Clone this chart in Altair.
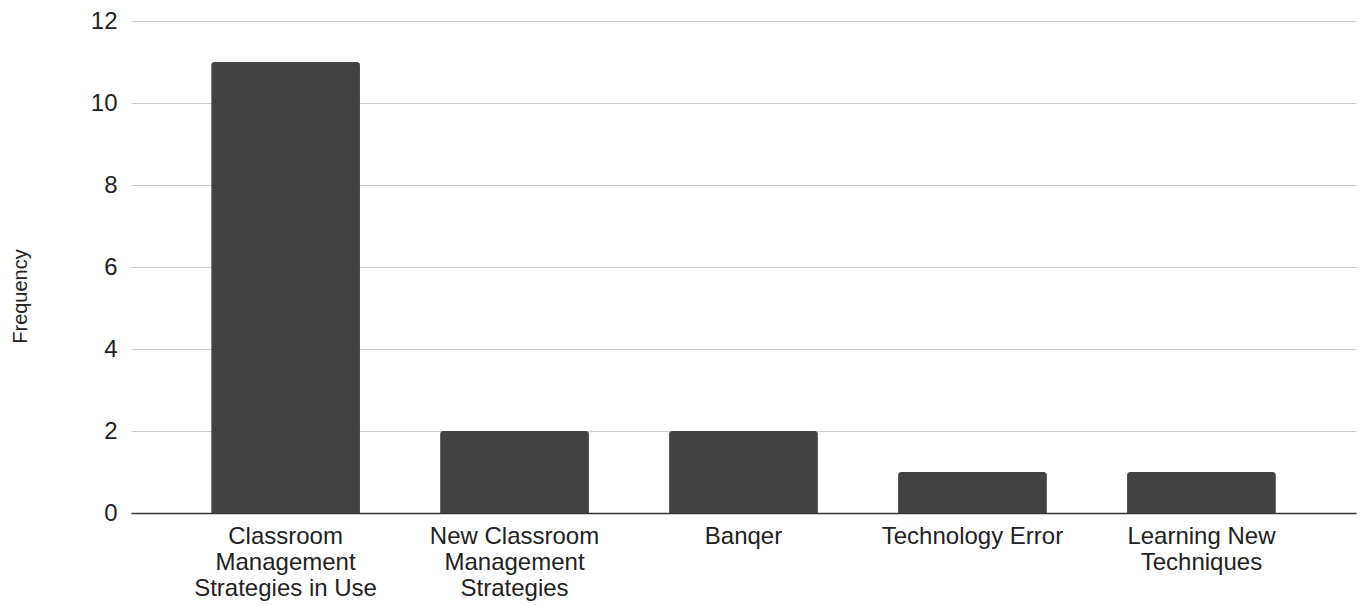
import altair as alt
import pandas as pd

# Category labels (line breaks mark where each axis label wraps)
categories = [
    "Classroom\nManagement\nStrategies in Use",
    "New Classroom\nManagement\nStrategies",
    "Banqer",
    "Technology Error",
    "Learning New\nTechniques",
]
frequency = [11, 2, 2, 1, 1]
y_ticks = [0, 2, 4, 6, 8, 10, 12]

df = pd.DataFrame({"category": categories, "frequency": frequency})

FONT = "Liberation Sans"

chart = (
    alt.Chart(df)
    .mark_bar(color="#424242", cornerRadiusTopLeft=3, cornerRadiusTopRight=3)
    .encode(
        x=alt.X(
            "category:N",
            sort=None,
            scale=alt.Scale(paddingInner=0.35, paddingOuter=0.35),
            axis=alt.Axis(
                title=None,
                labelAngle=0,
                labelExpr="split(datum.label, '\\n')",
                labelFont=FONT,
                labelFontSize=24,
                labelColor="#222222",
                labelLineHeight=26,
                labelBaseline="top",
                labelPadding=11,
                labelLimit=400,
                ticks=False,
                domainColor="#333333",
                domainWidth=1.5,
                grid=False,
            ),
        ),
        y=alt.Y(
            "frequency:Q",
            scale=alt.Scale(domain=[0, 12], nice=False),
            axis=alt.Axis(
                title="Frequency",
                values=y_ticks,
                labelFont=FONT,
                labelFontSize=24,
                labelColor="#222222",
                labelPadding=14,
                ticks=False,
                domain=False,
                grid=True,
                gridColor="#cccccc",
                gridWidth=1,
                titleFont=FONT,
                titleFontSize=20,
                titleFontWeight="normal",
                titleColor="#222222",
                titleAngle=-90,
                titleX=-111,
                titleY=275,
                titleAlign="center",
                titleBaseline="middle",
            ),
        ),
    )
    .properties(
        width=1225,
        height=492,
        background="white",
        autosize=alt.AutoSizeParams(type="none"),
        padding={"left": 131, "top": 21, "right": 8, "bottom": 92},
    )
    .configure_view(strokeWidth=0, stroke=None)
)

chart.save("out.html", embed_options={"renderer": "svg", "actions": False})
